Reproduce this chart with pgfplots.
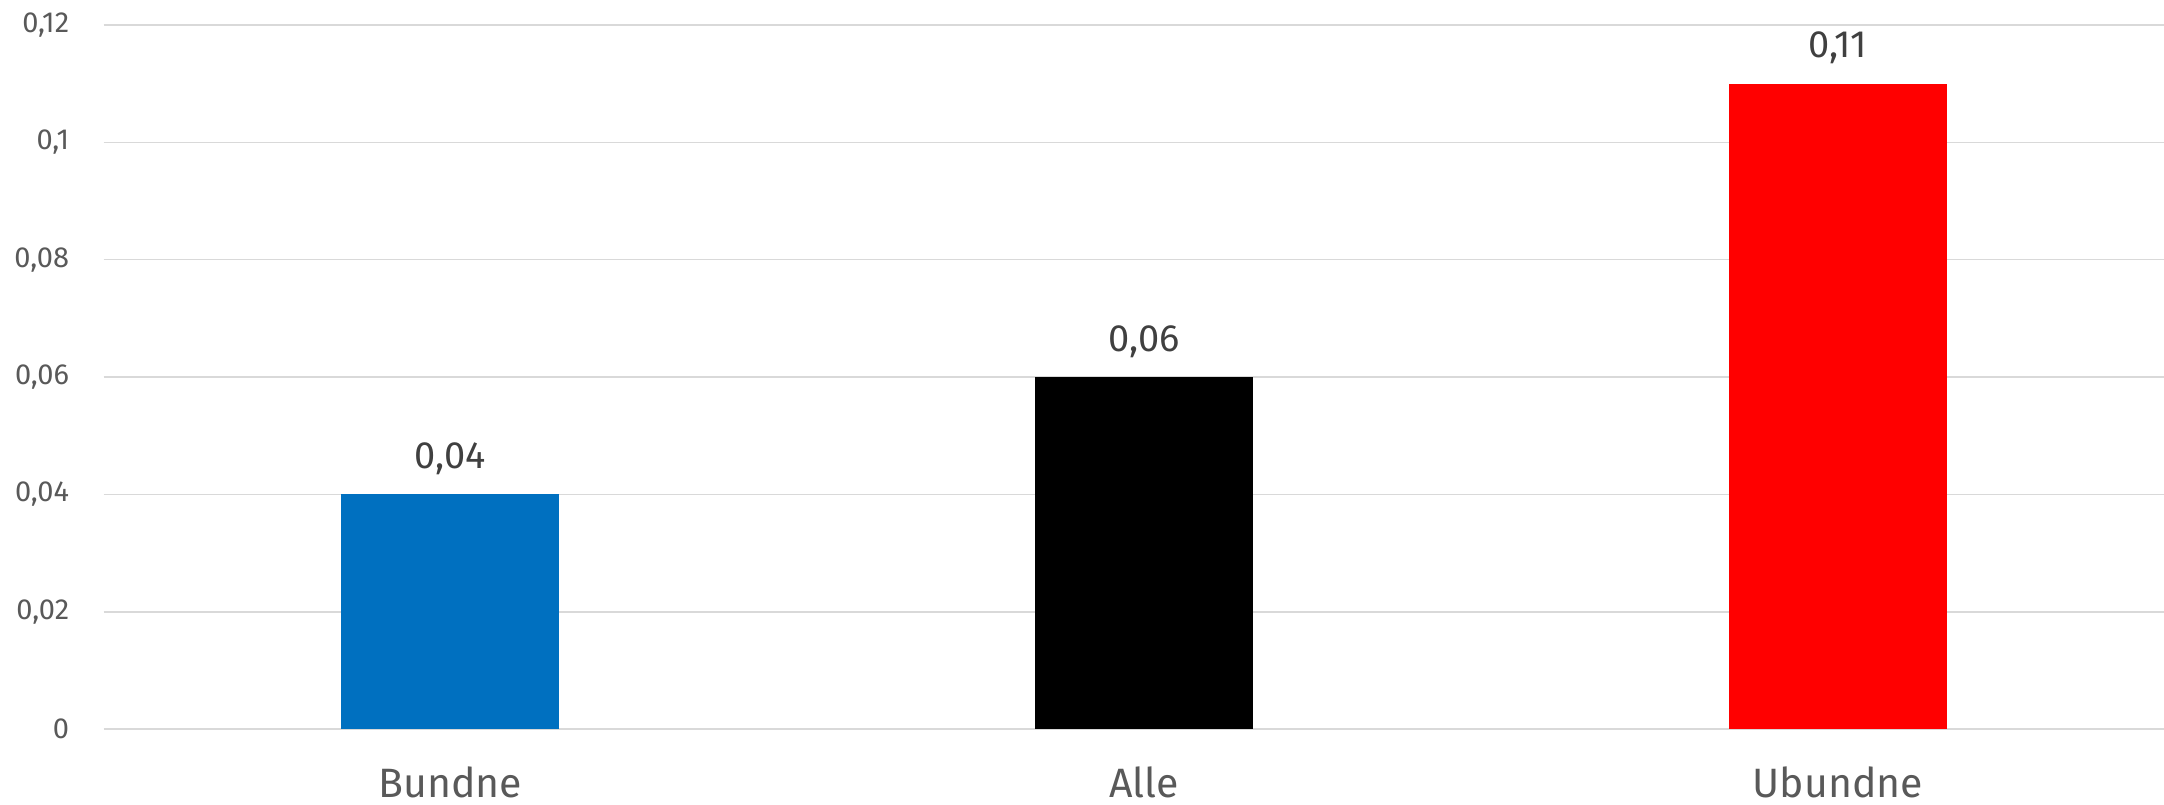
\documentclass[border=0pt]{standalone}
\usepackage{fontspec}
\setmainfont{Fira Sans}
\usepackage{pgfplots}
\pgfplotsset{compat=1.18}
\definecolor{barblue}{HTML}{0070C0}
\definecolor{barred}{HTML}{FF0000}
\definecolor{gridgray}{HTML}{D9D9D9}
\definecolor{ticktext}{HTML}{595959}
\definecolor{labeltext}{HTML}{404040}
\begin{document}
\begin{tikzpicture}
\begin{axis}[
    scale only axis,
    width=1030pt, height=352pt,
    xmin=-0.5, xmax=2.47,
    ymin=0, ymax=0.12,
    ytick={0,0.02,0.04,0.06,0.08,0.1,0.12},
    yticklabels={0,{0,02},{0,04},{0,06},{0,08},{0,1},{0,12}},
    scaled y ticks=false,
    xtick={0,1,2},
    xticklabels={Bundne,Alle,Ubundne},
    axis line style={draw=none},
    major tick length=0pt,
    ymajorgrids,
    grid style={gridgray, line width=0.75pt},
    yticklabel style={font=\fontsize{14.5}{16}\selectfont, text=ticktext, inner sep=0pt, xshift=-17pt},
    xticklabel style={font=\fontsize{20.5}{24}\selectfont, text=ticktext, inner sep=0pt, yshift=-18.5pt},
    ybar, bar width=109pt,
    point meta=explicit symbolic,
    nodes near coords,
    every node near coord/.append style={font=\fontsize{19}{22}\selectfont, text=labeltext, inner sep=0pt, yshift=9.5pt, anchor=south},
]
\addplot[fill=barblue, draw=none, bar shift=0pt] coordinates {(0,0.04) [0,04]};
\addplot[fill=black, draw=none, bar shift=0pt] coordinates {(1,0.06) [0,06]};
\addplot[fill=barred, draw=none, bar shift=0pt] coordinates {(2,0.11) [0,11]};
\end{axis}
\pgfresetboundingbox
\useasboundingbox (-51.75pt,-37.5pt) rectangle (1030pt,364.5pt);
\end{tikzpicture}
\end{document}
